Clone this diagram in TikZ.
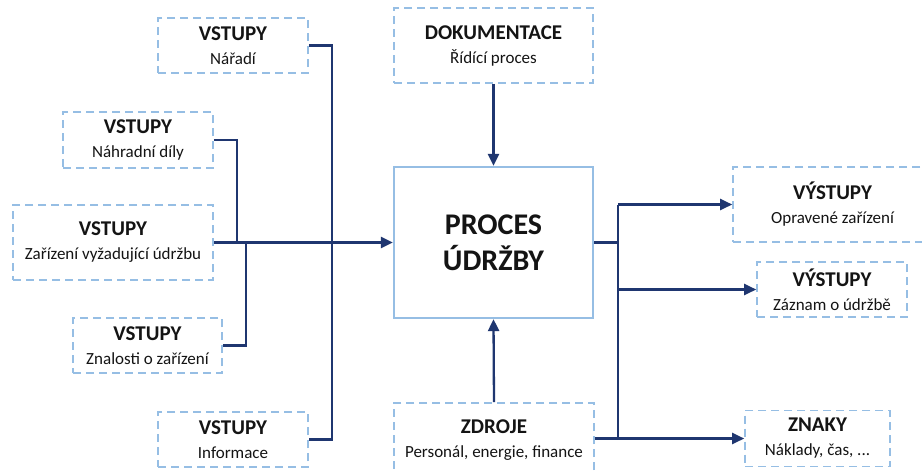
\documentclass[tikz,border=0pt]{standalone}
\usepackage{fontspec}
\setmainfont{Carlito}
\usetikzlibrary{arrows.meta}
\definecolor{linkblue}{RGB}{31,54,112}
\definecolor{framebl}{RGB}{150,190,228}
\definecolor{inktext}{RGB}{20,20,20}
\newcommand{\boxtext}[2]{{\fontsize{21}{24}\selectfont\bfseries #1}\\{\fontsize{17}{24}\selectfont #2}}
\tikzset{
  infobox/.style={draw=framebl, line width=1.6pt, dash pattern=on 8pt off 5pt,
    fill=white, align=center, text=inktext, inner sep=0pt,
    font=\fontsize{17}{24}\selectfont},
  mainbox/.style={draw=framebl, line width=2.2pt, fill=white, align=center,
    text=inktext, inner sep=0pt, font=\fontsize{30}{36}\selectfont\bfseries},
  link/.style={draw=linkblue, line width=2.3pt},
  flow/.style={link, -{Triangle[length=12pt, width=11pt]}}
}
\begin{document}
\begin{tikzpicture}[x=1pt, y=-1pt]
\useasboundingbox[fill=white] (0,0) rectangle (922,472);
\clip (0,0) rectangle (922,472);

% input boxes
\node[infobox, minimum width=150pt, minimum height=55pt] (tools) at (233,45.5) {\boxtext{VSTUPY}{Nářadí}};
\node[infobox, minimum width=150pt, minimum height=56pt] (parts) at (138,140) {\boxtext{VSTUPY}{Náhradní díly}};
\node[infobox, minimum width=200pt, minimum height=75pt] (equip) at (113,242.5) {\boxtext{VSTUPY}{Zařízení vyžadující údržbu}};
\node[infobox, minimum width=149pt, minimum height=55pt] (know) at (147.5,345.5) {\boxtext{VSTUPY}{Znalosti o zařízení}};
\node[infobox, minimum width=150pt, minimum height=55pt] (info) at (233,439.5) {\boxtext{VSTUPY}{Informace}};

% control, resources and the process itself
\node[infobox, minimum width=199pt, minimum height=75pt] (docs) at (493.5,45.5) {\boxtext{DOKUMENTACE}{Řídící proces}};
\node[mainbox, minimum width=199pt, minimum height=151pt] (proc) at (493.5,242.5) {PROCES\\ÚDRŽBY};
\node[infobox, minimum width=200pt, minimum height=75pt] (res) at (494,440.5) {\boxtext{ZDROJE}{Personál, energie, finance}};

% outputs
\node[infobox, minimum width=199pt, minimum height=75pt] (out1) at (832.5,204.5) {\boxtext{VÝSTUPY}{Opravené zařízení}};
\node[infobox, minimum width=150pt, minimum height=55pt] (out2) at (832,289.5) {\boxtext{VÝSTUPY}{Záznam o údržbě}};
\node[infobox, minimum width=145pt, minimum height=56pt] (marks) at (817.5,438.5) {\boxtext{ZNAKY}{Náklady, čas, ...}};

% junction points of the collecting lines
\coordinate (busA) at (332,242.5);
\coordinate (busB) at (237,242.5);
\coordinate (busC) at (246,242.5);
\coordinate (busR) at (618,242.5);

% inputs into the process
\draw[link] (tools.east) -| (busA) |- (info.east);
\draw[link] (parts.east) -| (busB);
\draw[link] (know.east) -| (busC);
\draw[flow] (equip.east) -- (proc.west);
\draw[flow] (docs.south) -- (proc.north);
\draw[flow] (res.north) -- (proc.south);

% outputs from the process
\draw[link] (proc.east) -- (busR);
\draw[link] (busR |- out1.west) -- (busR |- marks.west);
\draw[flow] (busR |- out1.west) -- (out1.west);
\draw[flow] (busR |- out2.west) -- (out2.west);
\draw[flow] (res.east |- marks.west) -- (marks.west);
\end{tikzpicture}
\end{document}
